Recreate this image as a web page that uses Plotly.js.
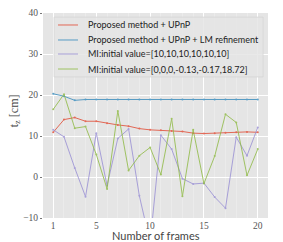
<!DOCTYPE html>
<html><head><meta charset="utf-8">
<script src="https://cdn.plot.ly/plotly-3.0.1.min.js"></script>
<style>html,body{margin:0;padding:0;background:#fff}#c{width:283px;height:242px}</style>
</head><body><div id="c"></div>
<script>
var frames = [1,2,3,4,5,6,7,8,9,10,11,12,13,14,15,16,17,18,19,20];
var names = ["Proposed method + UPnP","Proposed method + UPnP + LM refinement","MI:initial value=[10,10,10,10,10,10]","MI:initial value=[0,0,0,-0.13,-0.17,18.72]"];
var upnp = [10.9,14.0,14.5,13.6,13.6,13.1,12.7,12.4,11.8,11.5,11.4,11.2,11.1,10.7,10.6,10.7,10.8,10.9,11.0,10.9];
var upnpLM = [20.3,19.7,18.7,18.9,18.9,18.9,18.9,18.9,18.9,18.9,18.9,18.9,18.9,18.9,18.9,18.9,18.9,18.9,18.9,18.9];
var mi10 = [11.5,9.8,2.2,-4.8,10.7,-2.1,9.4,11.7,-4.6,-16,10.2,6.8,-0.4,-1.7,-1.5,-4.9,-7.6,9.7,5.2,12.1];
var miInit = [16.5,20.2,11.9,12.3,5.5,-2.9,16.1,1.6,5.2,7.2,0.6,14.2,-4.7,11.5,-1.6,5.1,15.3,13.3,0.4,6.8];
var xticks = [1,5,10,15,20];
var yticks = [-10,0,10,20,30,40];
var colors = ["#E24A33","#348ABD","#988ED5","#8EBA42"];
var series = [upnp, upnpLM, mi10, miInit];
var traces = [];
series.forEach(function(s,i){
  traces.push({x: frames, y: s, name: names[i], type:'scatter', mode:'lines+markers', showlegend:false,
    line:{color:colors[i], width:1}, marker:{color:colors[i], size:2}, opacity:0.8});
});
// legend drawn in paper coordinates (style only)
var legRowsY = [0.9415, 0.8683, 0.8000, 0.7268];
var shapes = [{type:'rect', xref:'paper', yref:'paper', x0:0.0489, x1:0.978, y0:0.688, y1:0.980,
  fillcolor:'rgba(229,229,229,0.85)', line:{color:'#d6d6d6', width:0.8}, layer:'above'}];
var annotations = [];
names.forEach(function(n,i){
  shapes.push({type:'line', xref:'paper', yref:'paper', x0:0.0667, x1:0.1556, y0:legRowsY[i], y1:legRowsY[i],
    line:{color:colors[i], width:1}, opacity:0.8, layer:'above'});
  annotations.push({text:n, xref:'paper', yref:'paper', x:0.192, y:legRowsY[i], xanchor:'left', yanchor:'middle',
    showarrow:false, font:{family:'Lato', size:9, color:'#222'}});
});
annotations.push({text:'Number of frames', xref:'paper', yref:'paper', x:0.5, y:-0.085, xanchor:'center', yanchor:'middle',
  showarrow:false, font:{family:'Lato', size:11, color:'#444'}});
annotations.push({text:'t<sub>z</sub> [cm]', xref:'paper', yref:'paper', x:-0.125, y:0.525, xanchor:'center', yanchor:'middle',
  textangle:-90, showarrow:false, font:{family:'Liberation Serif', size:12, color:'#444'}});
var layout = {
  width:283, height:242,
  margin:{l:43, r:15, t:13, b:24},
  paper_bgcolor:'#fff', plot_bgcolor:'#E5E5E5',
  showlegend:false,
  xaxis:{range:[0.05,20.95], tickvals:xticks, ticktext:xticks.map(String), showgrid:true, gridcolor:'#ffffff', gridwidth:1,
    minor:{dtick:1, tick0:0, showgrid:true, gridcolor:'rgba(255,255,255,0.5)', gridwidth:0.5, ticks:''},
    zeroline:false, showline:false, ticks:'', ticklabelstandoff:0,
    tickfont:{family:'Liberation Serif', size:9.5, color:'#555'}},
  yaxis:{range:[-10,40], tickvals:yticks, showgrid:true, gridcolor:'#ffffff', gridwidth:1,
    zeroline:false, showline:false, ticks:'outside', ticklen:2, tickcolor:'#777',
    tickfont:{family:'Liberation Serif', size:9.5, color:'#555'}},
  shapes: shapes,
  annotations: annotations
};
Plotly.newPlot('c', traces, layout, {staticPlot:true});
</script></body></html>
